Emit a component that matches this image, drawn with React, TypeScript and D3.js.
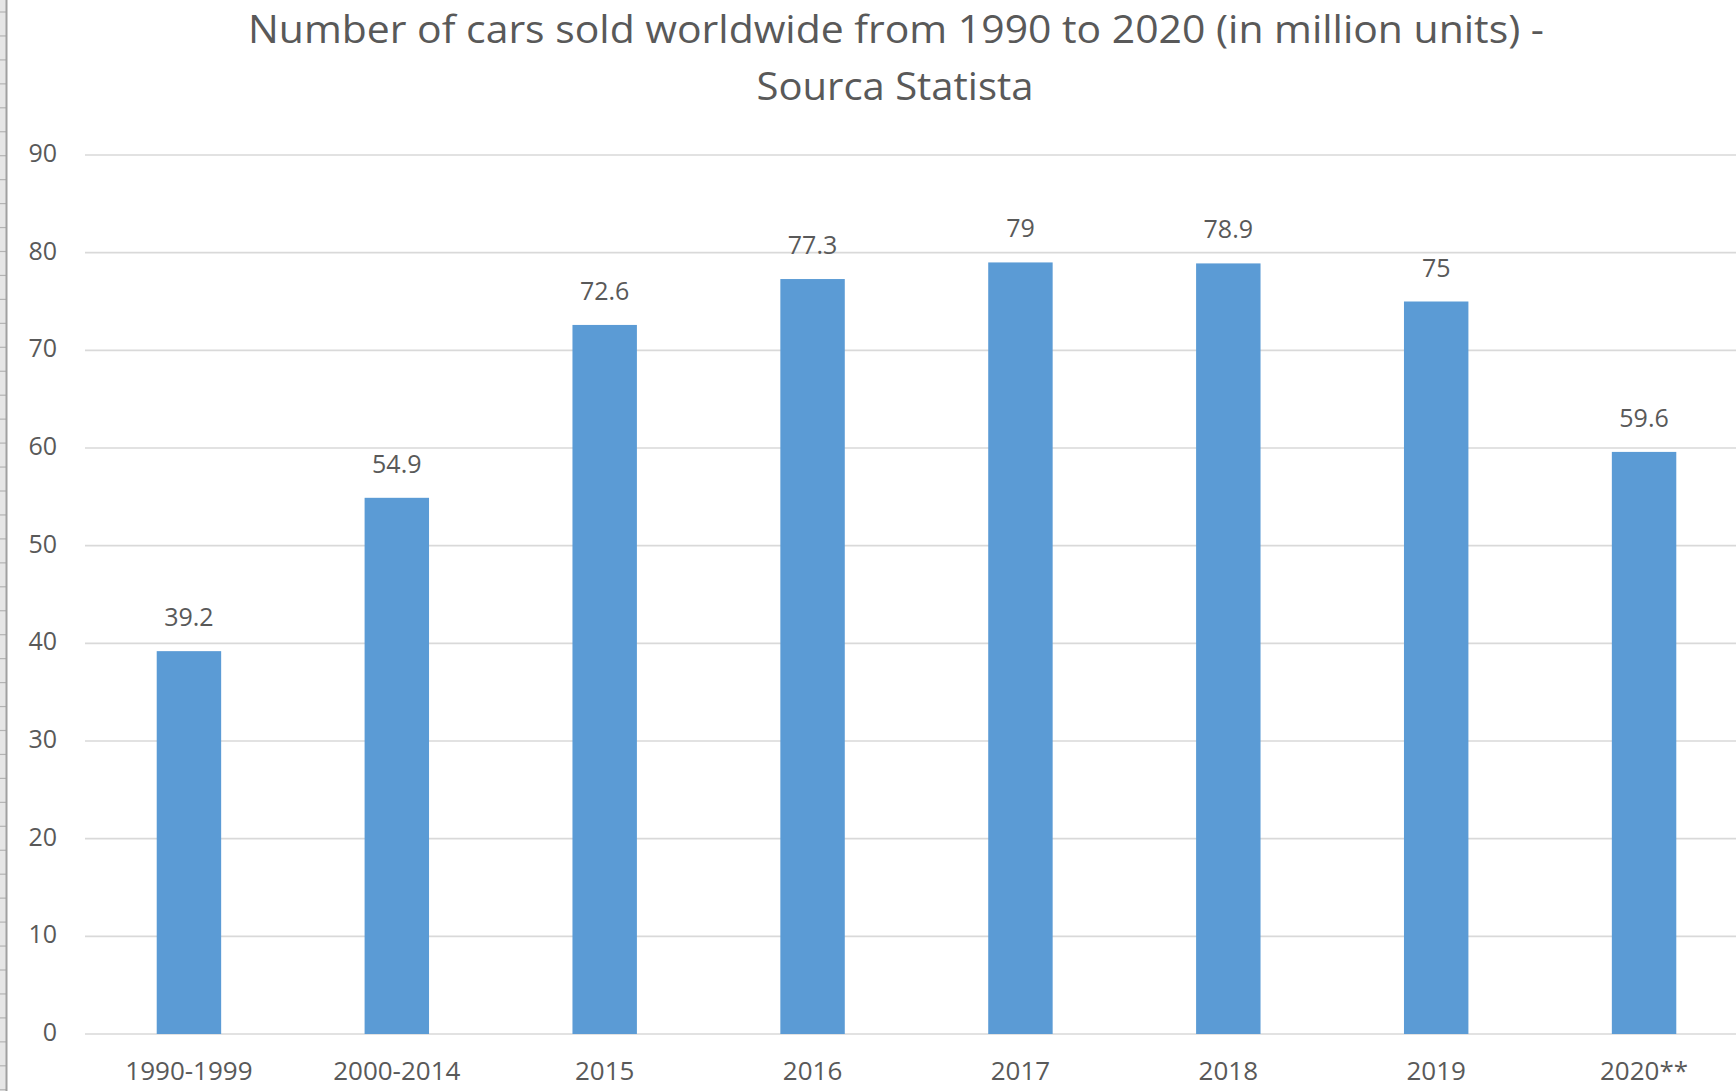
import React from "react";
import * as d3 from "d3";

const categories = ["1990-1999", "2000-2014", "2015", "2016", "2017", "2018", "2019", "2020**"];
const values = [39.2, 54.9, 72.6, 77.3, 79, 78.9, 75, 59.6];
const yTicks = [0, 10, 20, 30, 40, 50, 60, 70, 80, 90];
const titleLines = ["Number of cars sold worldwide from 1990 to 2020 (in million units) -", "Sourca Statista"];

const W = 1736;
const H = 1091;
const FONT = "'Open Sans', 'Liberation Sans', sans-serif";
const TEXT = "#595959";

export default function App() {
  const x = d3
    .scaleBand<string>()
    .domain(categories)
    .range([85, 1748])
    .paddingInner(0.69)
    .paddingOuter(0.345);
  const y = d3.scaleLinear().domain([0, 90]).range([1034, 155]);
  const stripTicks = d3.range(12, H, 23.95);

  return (
    <svg
      width={W}
      height={H}
      style={{ position: "absolute", left: 0, top: 0, background: "#fff" }}
      fontFamily={FONT}
    >
      <rect x={0} y={0} width={W} height={H} fill="#ffffff" />
      {/* left strip */}
      <rect x={0} y={0} width={6} height={H} fill="#e6e6e6" />
      {stripTicks.map((t, i) => (
        <line key={i} x1={0} x2={6} y1={t} y2={t} stroke="#b4b4b4" strokeWidth={1.2} />
      ))}
      <line x1={6.5} x2={6.5} y1={0} y2={H} stroke="#a0a0a0" strokeWidth={2} />

      {/* title */}
      <text x={896} y={43} textAnchor="middle" fontSize={39} fill={TEXT} textLength={1296} lengthAdjust="spacingAndGlyphs">
        {titleLines[0]}
      </text>
      <text x={895} y={100} textAnchor="middle" fontSize={39} fill={TEXT} textLength={277} lengthAdjust="spacingAndGlyphs">
        {titleLines[1]}
      </text>

      {/* gridlines & y labels */}
      {yTicks.map((t) => (
        <g key={t}>
          <line x1={85} x2={W} y1={y(t)} y2={y(t)} stroke="#d9d9d9" strokeWidth={1.6} />
          <text x={57} y={y(t) + 7} textAnchor="end" fontSize={25} fill={TEXT}>
            {t}
          </text>
        </g>
      ))}

      {/* bars */}
      {categories.map((c, i) => (
        <g key={c}>
          <rect
            x={x(c)!}
            y={y(values[i])}
            width={x.bandwidth()}
            height={y(0) - y(values[i])}
            fill="#5b9bd5"
          />
          <text
            x={x(c)! + x.bandwidth() / 2}
            y={y(values[i]) - 25}
            textAnchor="middle"
            fontSize={25}
            fill={TEXT}
          >
            {values[i]}
          </text>
          <text x={x(c)! + x.bandwidth() / 2} y={1080} textAnchor="middle" fontSize={26} fill={TEXT}>
            {c}
          </text>
        </g>
      ))}
    </svg>
  );
}
